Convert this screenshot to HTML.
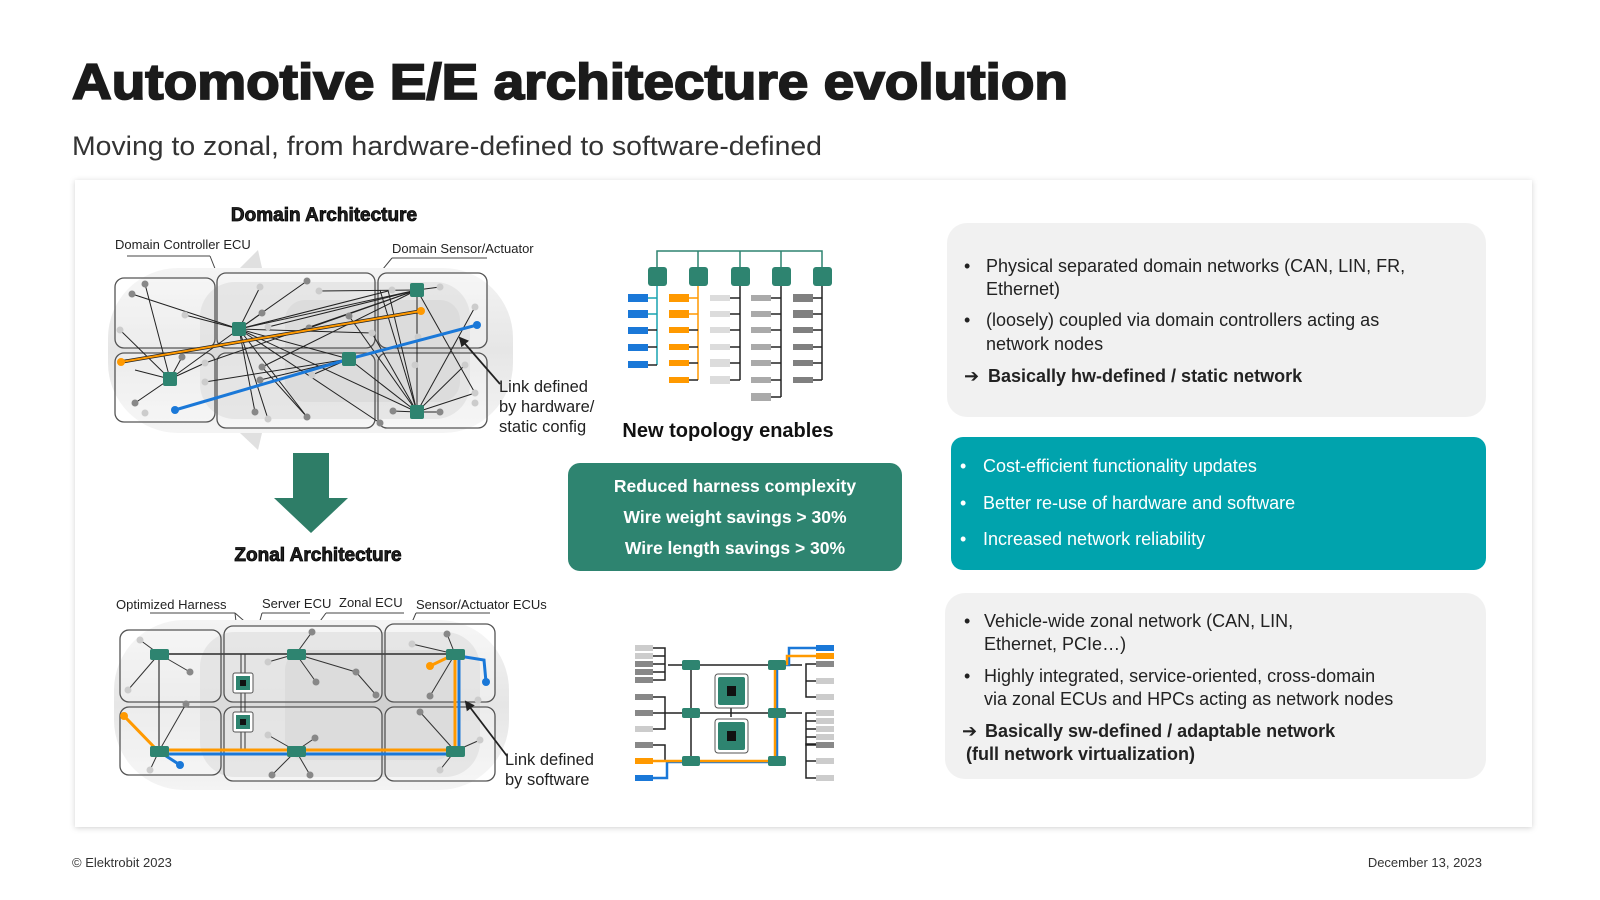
<!DOCTYPE html>
<html><head><meta charset="utf-8"><style>
html,body{margin:0;padding:0;background:#fff;}
body{width:1600px;height:900px;overflow:hidden;position:relative;font-family:"Liberation Sans",sans-serif;}
svg{position:absolute;left:0;top:0;}
</style></head><body>
<svg width="1600" height="900" viewBox="0 0 1600 900" xmlns="http://www.w3.org/2000/svg" font-family="Liberation Sans, sans-serif">
<defs>
<filter id="sh" x="-5%" y="-5%" width="110%" height="110%"><feDropShadow dx="0" dy="1" stdDeviation="3" flood-color="#000" flood-opacity="0.18"/></filter>
<marker id="ah" markerWidth="10" markerHeight="10" refX="8" refY="5" orient="auto" markerUnits="userSpaceOnUse"><path d="M0,0 L10,5 L0,10 z" fill="#222"/></marker>
<linearGradient id="car" x1="0" y1="0" x2="0" y2="1"><stop offset="0" stop-color="#f4f4f4"/><stop offset="0.5" stop-color="#e6e6e6"/><stop offset="1" stop-color="#f4f4f4"/></linearGradient>
</defs>

<text x="72" y="99" font-size="50" font-weight="bold" fill="#1b1b1b" stroke="#1b1b1b" stroke-width="1.8" textLength="996" lengthAdjust="spacingAndGlyphs">Automotive E/E architecture evolution</text>
<text x="72" y="155" font-size="27" fill="#333" textLength="750" lengthAdjust="spacingAndGlyphs">Moving to zonal, from hardware-defined to software-defined</text>

<rect x="75" y="180" width="1457" height="647" fill="#fff" filter="url(#sh)"/>

<text x="72" y="867" font-size="13" fill="#333">© Elektrobit 2023</text>
<text x="1482" y="867" font-size="13" fill="#333" text-anchor="end">December 13, 2023</text>

<!-- DOMAIN -->
<text x="324" y="221" font-size="19" font-weight="bold" fill="#222" stroke="#000" stroke-width="0.8" text-anchor="middle">Domain Architecture</text>
<text x="115" y="249" font-size="13" fill="#222">Domain Controller ECU</text>
<text x="392" y="253" font-size="13" fill="#222">Domain Sensor/Actuator</text>
<line x1="127" y1="256" x2="210" y2="256" stroke="#444" stroke-width="1"/>
<line x1="210" y1="256" x2="239" y2="329" stroke="#444" stroke-width="1"/>
<line x1="392" y1="258" x2="487" y2="258" stroke="#444" stroke-width="1"/>
<line x1="392" y1="258" x2="378" y2="275" stroke="#444" stroke-width="1"/>

<rect x="108" y="268" width="405" height="165" rx="70" fill="url(#car)"/>
<rect x="200" y="282" width="270" height="137" rx="35" fill="#d6d6d6" opacity="0.7"/>
<rect x="285" y="300" width="175" height="102" rx="20" fill="#c8c8c8" opacity="0.6"/>
<path d="M240 268 L258 250 L262 268 Z M240 433 L258 450 L262 433 Z" fill="#e0e0e0"/>
<g fill="#fff" fill-opacity="0.25" stroke="#555" stroke-width="1.3">
<rect x="115" y="278" width="100" height="70" rx="9"/>
<rect x="217" y="273" width="158" height="75" rx="9"/>
<rect x="378" y="273" width="109" height="75" rx="9"/>
<rect x="115" y="353" width="100" height="69" rx="9"/>
<rect x="217" y="353" width="158" height="75" rx="9"/>
<rect x="378" y="353" width="109" height="75" rx="9"/>
</g>
<g stroke="#222" stroke-width="1">
<line x1="239" y1="329" x2="132" y2="294"/><line x1="239" y1="329" x2="185" y2="315"/>
<line x1="239" y1="329" x2="260" y2="287"/><line x1="239" y1="329" x2="307" y2="281"/>
<line x1="239" y1="329" x2="262" y2="313"/><line x1="239" y1="329" x2="255" y2="412"/>
<line x1="239" y1="329" x2="307" y2="417"/><line x1="239" y1="329" x2="380" y2="423"/>
<line x1="239" y1="329" x2="268" y2="419"/><line x1="239" y1="329" x2="417" y2="290"/>
<line x1="239" y1="329" x2="417" y2="412"/><line x1="239" y1="329" x2="349" y2="359"/>
<line x1="239" y1="329" x2="170" y2="379"/><line x1="239" y1="329" x2="392" y2="290"/>
<line x1="239" y1="329" x2="372" y2="333"/>
<line x1="170" y1="379" x2="145" y2="284"/><line x1="170" y1="379" x2="120" y2="330"/>
<line x1="170" y1="379" x2="135" y2="403"/><line x1="170" y1="379" x2="182" y2="357"/>
<line x1="170" y1="379" x2="205" y2="363"/><line x1="170" y1="379" x2="135" y2="370"/>
<line x1="349" y1="359" x2="205" y2="382"/><line x1="349" y1="359" x2="260" y2="380"/>
<line x1="349" y1="359" x2="417" y2="412"/><line x1="349" y1="359" x2="312" y2="375"/>
<line x1="417" y1="290" x2="262" y2="367"/><line x1="417" y1="290" x2="319" y2="291"/>
<line x1="417" y1="290" x2="440" y2="287"/><line x1="417" y1="290" x2="205" y2="363"/>
<line x1="417" y1="290" x2="417" y2="412"/><line x1="417" y1="290" x2="268" y2="327"/>
<line x1="417" y1="290" x2="475" y2="393"/><line x1="417" y1="290" x2="309" y2="328"/>
<line x1="417" y1="412" x2="393" y2="411"/><line x1="417" y1="412" x2="440" y2="412"/>
<line x1="417" y1="412" x2="475" y2="393"/><line x1="417" y1="412" x2="475" y2="307"/>
<line x1="417" y1="412" x2="465" y2="365"/><line x1="417" y1="412" x2="380" y2="290"/>
<line x1="417" y1="412" x2="372" y2="333"/><line x1="417" y1="412" x2="349" y2="316"/>
<line x1="417" y1="412" x2="388" y2="290"/>
<line x1="307" y1="417" x2="262" y2="367"/>
</g>
<g fill="#888">
<circle cx="145" cy="284" r="3.5"/><circle cx="132" cy="294" r="3.5"/><circle cx="135" cy="403" r="3.5"/>
<circle cx="182" cy="357" r="3.5"/><circle cx="307" cy="281" r="3.5"/><circle cx="262" cy="313" r="3.5"/>
<circle cx="309" cy="328" r="3.5"/><circle cx="349" cy="316" r="3.5"/><circle cx="262" cy="367" r="3.5"/>
<circle cx="260" cy="380" r="3.5"/><circle cx="255" cy="412" r="3.5"/><circle cx="307" cy="417" r="3.5"/>
<circle cx="380" cy="423" r="3.5"/><circle cx="393" cy="411" r="3.5"/><circle cx="440" cy="412" r="3.5"/>
</g>
<g fill="#ccc">
<circle cx="185" cy="315" r="3.5"/><circle cx="120" cy="330" r="3.5"/><circle cx="145" cy="413" r="3.5"/>
<circle cx="205" cy="363" r="3.5"/><circle cx="205" cy="382" r="3.5"/><circle cx="260" cy="287" r="3.5"/>
<circle cx="319" cy="291" r="3.5"/><circle cx="268" cy="327" r="3.5"/><circle cx="392" cy="290" r="3.5"/>
<circle cx="440" cy="287" r="3.5"/><circle cx="475" cy="307" r="3.5"/><circle cx="418" cy="337" r="3.5"/>
<circle cx="372" cy="333" r="3.5"/><circle cx="268" cy="419" r="3.5"/><circle cx="312" cy="375" r="3.5"/>
<circle cx="415" cy="365" r="3.5"/><circle cx="465" cy="365" r="3.5"/><circle cx="475" cy="393" r="3.5"/>
<circle cx="475" cy="403" r="3.5"/>
</g>
<line x1="121" y1="362" x2="421" y2="311" stroke="#222" stroke-width="3.5"/>
<line x1="121" y1="362" x2="421" y2="311" stroke="#f90" stroke-width="2"/>
<polyline points="175,410 349,359 477,325" fill="none" stroke="#1a78d8" stroke-width="3"/>
<circle cx="121" cy="362" r="4" fill="#f90"/><circle cx="421" cy="311" r="4" fill="#f90"/>
<circle cx="175" cy="410" r="4" fill="#1a78d8"/><circle cx="477" cy="325" r="4" fill="#1a78d8"/>
<g fill="#2e8470">
<rect x="232" y="322" width="14" height="14" rx="2"/><rect x="163" y="372" width="14" height="14" rx="2"/>
<rect x="342" y="352" width="14" height="14" rx="2"/><rect x="410" y="283" width="14" height="14" rx="2"/>
<rect x="410" y="405" width="14" height="14" rx="2"/>
</g>
<line x1="500" y1="384" x2="460" y2="338" stroke="#222" stroke-width="1.8" marker-end="url(#ah)"/>
<text font-size="16.5" fill="#222"><tspan x="499" y="392">Link defined</tspan><tspan x="499" y="412">by hardware/</tspan><tspan x="499" y="432">static config</tspan></text>

<rect x="293" y="453" width="36" height="46" fill="#2e7d67"/>
<polygon points="274,498 348,498 311,533" fill="#2e7d67"/>

<!-- ZONAL -->
<text x="318" y="561" font-size="19" font-weight="bold" fill="#222" stroke="#000" stroke-width="0.8" text-anchor="middle">Zonal Architecture</text>
<text x="116" y="609" font-size="13" fill="#222">Optimized Harness</text>
<text x="262" y="608" font-size="13" fill="#222">Server ECU</text>
<text x="339" y="607" font-size="13" fill="#222">Zonal ECU</text>
<text x="416" y="609" font-size="13" fill="#222">Sensor/Actuator ECUs</text>
<g stroke="#444" stroke-width="1">
<line x1="150" y1="613" x2="235" y2="613"/><line x1="235" y1="613" x2="243" y2="683"/><line x1="235" y1="613" x2="283" y2="655"/>
<line x1="262" y1="613" x2="310" y2="613"/><line x1="262" y1="613" x2="243" y2="683"/>
<line x1="326" y1="613" x2="404" y2="613"/><line x1="326" y1="613" x2="296" y2="654"/>
<line x1="416" y1="613" x2="490" y2="613"/><line x1="416" y1="613" x2="400" y2="650"/>
</g>
<rect x="114" y="620" width="395" height="170" rx="70" fill="url(#car)"/>
<rect x="200" y="632" width="280" height="145" rx="35" fill="#d6d6d6" opacity="0.7"/>
<rect x="285" y="650" width="170" height="110" rx="20" fill="#c8c8c8" opacity="0.6"/>
<g fill="#fff" fill-opacity="0.25" stroke="#555" stroke-width="1.3">
<rect x="120" y="630" width="101" height="72" rx="9"/>
<rect x="224" y="626" width="158" height="76" rx="9"/>
<rect x="385" y="624" width="110" height="78" rx="9"/>
<rect x="120" y="707" width="101" height="68" rx="9"/>
<rect x="224" y="707" width="158" height="74" rx="9"/>
<rect x="385" y="707" width="110" height="74" rx="9"/>
</g>
<g stroke="#333" stroke-width="1">
<line x1="159" y1="654" x2="140" y2="640"/><line x1="159" y1="654" x2="128" y2="690"/><line x1="159" y1="654" x2="190" y2="672"/>
<line x1="296" y1="654" x2="312" y2="632"/><line x1="296" y1="654" x2="268" y2="662"/><line x1="296" y1="654" x2="316" y2="682"/>
<line x1="296" y1="654" x2="356" y2="672"/><line x1="356" y1="672" x2="376" y2="695"/>
<line x1="455" y1="654" x2="447" y2="634"/><line x1="455" y1="654" x2="412" y2="644"/><line x1="455" y1="654" x2="430" y2="696"/>
<line x1="159" y1="751" x2="186" y2="704"/><line x1="159" y1="751" x2="150" y2="770"/>
<line x1="296" y1="751" x2="315" y2="738"/><line x1="296" y1="751" x2="272" y2="775"/><line x1="296" y1="751" x2="310" y2="775"/>
<line x1="296" y1="751" x2="268" y2="735"/>
<line x1="455" y1="751" x2="420" y2="712"/><line x1="455" y1="751" x2="440" y2="770"/><line x1="455" y1="751" x2="480" y2="740"/>
</g>
<line x1="159" y1="654" x2="455" y2="654" stroke="#444" stroke-width="1.8"/>
<line x1="159" y1="654" x2="159" y2="751" stroke="#333" stroke-width="1.2"/>
<line x1="241" y1="654" x2="241" y2="751" stroke="#333" stroke-width="1"/>
<line x1="245" y1="654" x2="245" y2="751" stroke="#333" stroke-width="1"/>
<g fill="#888"><circle cx="190" cy="672" r="3.5"/><circle cx="316" cy="682" r="3.5"/><circle cx="356" cy="672" r="3.5"/><circle cx="376" cy="695" r="3.5"/><circle cx="447" cy="634" r="3.5"/><circle cx="430" cy="696" r="3.5"/><circle cx="186" cy="704" r="3.5"/><circle cx="272" cy="775" r="3.5"/><circle cx="310" cy="775" r="3.5"/><circle cx="315" cy="738" r="3.5"/><circle cx="420" cy="712" r="3.5"/><circle cx="312" cy="632" r="3.5"/></g>
<g fill="#ccc"><circle cx="140" cy="640" r="3.5"/><circle cx="128" cy="690" r="3.5"/><circle cx="268" cy="662" r="3.5"/><circle cx="412" cy="644" r="3.5"/><circle cx="150" cy="770" r="3.5"/><circle cx="268" cy="735" r="3.5"/><circle cx="440" cy="770" r="3.5"/><circle cx="480" cy="740" r="3.5"/><circle cx="478" cy="700" r="3.5"/></g>
<polyline points="180,765 163,754 459,754 459,656 484,660 486,682" fill="none" stroke="#1a78d8" stroke-width="3"/>
<polyline points="124,716 157,750 455,750 455,654 430,666" fill="none" stroke="#f90" stroke-width="3"/>
<circle cx="124" cy="716" r="4" fill="#f90"/><circle cx="430" cy="666" r="4" fill="#f90"/>
<circle cx="180" cy="765" r="4" fill="#1a78d8"/><circle cx="486" cy="682" r="4" fill="#1a78d8"/>
<g fill="#2e8470">
<rect x="150" y="649" width="19" height="11" rx="2"/><rect x="287" y="649" width="19" height="11" rx="2"/><rect x="446" y="649" width="19" height="11" rx="2"/>
<rect x="150" y="746" width="19" height="11" rx="2"/><rect x="287" y="746" width="19" height="11" rx="2"/><rect x="446" y="746" width="19" height="11" rx="2"/>
</g>
<g>
<rect x="233" y="673" width="20" height="20" rx="2" fill="#fff" stroke="#555"/><rect x="236" y="676" width="14" height="14" fill="#2e8470"/><rect x="240" y="680" width="6" height="6" fill="#111"/>
<rect x="233" y="712" width="20" height="20" rx="2" fill="#fff" stroke="#555"/><rect x="236" y="715" width="14" height="14" fill="#2e8470"/><rect x="240" y="719" width="6" height="6" fill="#111"/>
</g>
<line x1="507" y1="756" x2="466" y2="702" stroke="#222" stroke-width="1.8" marker-end="url(#ah)"/>
<text font-size="16.5" fill="#222"><tspan x="505" y="765">Link defined</tspan><tspan x="505" y="785">by software</tspan></text>

<!-- TOP TOPOLOGY -->
<polyline points="657,276 657,251 822,251 822,276" fill="none" stroke="#2e8470" stroke-width="1.5"/>
<g stroke="#2e8470" stroke-width="1.5"><line x1="698" y1="251" x2="698" y2="276"/><line x1="740" y1="251" x2="740" y2="276"/><line x1="781" y1="251" x2="781" y2="276"/></g>
<line x1="657" y1="276" x2="657" y2="365" stroke="#19a3b0" stroke-width="1.5"/>
<line x1="698" y1="276" x2="698" y2="380" stroke="#f90" stroke-width="1.5"/>
<g stroke="#222" stroke-width="1.5"><line x1="740" y1="276" x2="740" y2="380"/><line x1="781" y1="276" x2="781" y2="397"/><line x1="822" y1="276" x2="822" y2="380"/></g>
<g fill="#2e8470"><rect x="648" y="267" width="19" height="19" rx="3"/><rect x="689" y="267" width="19" height="19" rx="3"/><rect x="731" y="267" width="19" height="19" rx="3"/><rect x="772" y="267" width="19" height="19" rx="3"/><rect x="813" y="267" width="19" height="19" rx="3"/></g>
<g stroke-width="1.5">
<g stroke="#19a3b0"><line x1="648" y1="298" x2="657" y2="298"/><line x1="648" y1="314" x2="657" y2="314"/></g>
<g stroke="#222"><line x1="648" y1="330" x2="657" y2="330"/><line x1="648" y1="347" x2="657" y2="347"/><line x1="648" y1="365" x2="657" y2="365"/></g>
<g stroke="#f90"><line x1="689" y1="298" x2="698" y2="298"/><line x1="689" y1="314" x2="698" y2="314"/></g>
<g stroke="#222"><line x1="689" y1="330" x2="698" y2="330"/><line x1="689" y1="347" x2="698" y2="347"/><line x1="689" y1="363" x2="698" y2="363"/><line x1="689" y1="380" x2="698" y2="380"/>
<line x1="730" y1="298" x2="740" y2="298"/><line x1="730" y1="314" x2="740" y2="314"/><line x1="730" y1="330" x2="740" y2="330"/><line x1="730" y1="347" x2="740" y2="347"/><line x1="730" y1="363" x2="740" y2="363"/><line x1="730" y1="380" x2="740" y2="380"/>
<line x1="771" y1="298" x2="781" y2="298"/><line x1="771" y1="314" x2="781" y2="314"/><line x1="771" y1="330" x2="781" y2="330"/><line x1="771" y1="347" x2="781" y2="347"/><line x1="771" y1="363" x2="781" y2="363"/><line x1="771" y1="380" x2="781" y2="380"/><line x1="771" y1="397" x2="781" y2="397"/>
<line x1="813" y1="298" x2="822" y2="298"/><line x1="813" y1="314" x2="822" y2="314"/><line x1="813" y1="330" x2="822" y2="330"/><line x1="813" y1="347" x2="822" y2="347"/><line x1="813" y1="363" x2="822" y2="363"/><line x1="813" y1="380" x2="822" y2="380"/></g>
</g>
<g fill="#1a78d8"><rect x="628" y="294" width="20" height="8"/><rect x="628" y="310" width="20" height="8"/><rect x="628" y="327" width="20" height="7"/><rect x="628" y="344" width="20" height="7"/><rect x="628" y="361" width="20" height="7"/></g>
<g fill="#f90"><rect x="669" y="294" width="20" height="8"/><rect x="669" y="310" width="20" height="8"/><rect x="669" y="327" width="20" height="6"/><rect x="669" y="344" width="20" height="6"/><rect x="669" y="360" width="20" height="6"/><rect x="669" y="377" width="20" height="6"/></g>
<g fill="#dcdcdc"><rect x="710" y="295" width="20" height="6"/><rect x="710" y="311" width="20" height="6"/><rect x="710" y="327" width="20" height="6"/><rect x="710" y="344" width="20" height="6"/><rect x="710" y="359" width="20" height="8"/><rect x="710" y="376" width="20" height="8"/></g>
<g fill="#aaa"><rect x="751" y="295" width="20" height="6"/><rect x="751" y="311" width="20" height="6"/><rect x="751" y="327" width="20" height="6"/><rect x="751" y="344" width="20" height="6"/><rect x="751" y="360" width="20" height="6"/><rect x="751" y="377" width="20" height="6"/><rect x="751" y="393" width="20" height="8"/></g>
<g fill="#808080"><rect x="793" y="294" width="20" height="8"/><rect x="793" y="310" width="20" height="8"/><rect x="793" y="327" width="20" height="6"/><rect x="793" y="344" width="20" height="6"/><rect x="793" y="360" width="20" height="6"/><rect x="793" y="377" width="20" height="6"/></g>

<text x="728" y="437" font-size="20" font-weight="bold" fill="#111" text-anchor="middle">New topology enables</text>

<rect x="568" y="463" width="334" height="108" rx="12" fill="#2e8470"/>
<g font-size="17.5" font-weight="bold" fill="#fff" text-anchor="middle">
<text x="735" y="492">Reduced harness complexity</text>
<text x="735" y="523">Wire weight savings &gt; 30%</text>
<text x="735" y="554">Wire length savings &gt; 30%</text>
</g>

<!-- BOTTOM TOPOLOGY -->
<g stroke="#222" stroke-width="1.5" fill="none">
<line x1="668" y1="665" x2="802" y2="665"/><line x1="668" y1="713" x2="802" y2="713"/>
<line x1="691" y1="665" x2="691" y2="761"/><line x1="777" y1="665" x2="777" y2="761"/>
<line x1="731" y1="700" x2="731" y2="717"/>
<polyline points="653,648 665,648 665,680 653,680"/><line x1="653" y1="656" x2="665" y2="656"/><line x1="653" y1="664" x2="665" y2="664"/><line x1="653" y1="672" x2="665" y2="672"/>
<polyline points="653,697 665,697 665,729 653,729"/><line x1="653" y1="713" x2="668" y2="713"/>
<polyline points="653,745 665,745 665,761 672,761"/>
<polyline points="816,664 806,664 806,697 816,697"/><line x1="806" y1="681" x2="816" y2="681"/>
<polyline points="816,713 806,713 806,745 816,745"/><line x1="806" y1="721" x2="816" y2="721"/><line x1="806" y1="729" x2="816" y2="729"/><line x1="806" y1="737" x2="816" y2="737"/>
<polyline points="816,744 806,744 806,778 816,778"/><line x1="806" y1="761" x2="816" y2="761"/>
</g>
<polyline points="653,778 667,778 667,762 777,762 777,665 789,665 789,648 816,648" fill="none" stroke="#1a78d8" stroke-width="2.5"/>
<polyline points="653,761 775,761 775,664 787,664 787,656 816,656" fill="none" stroke="#f90" stroke-width="2.5"/>
<g fill="#2e8470">
<rect x="682" y="660" width="18" height="10" rx="2"/><rect x="768" y="660" width="18" height="10" rx="2"/>
<rect x="682" y="708" width="18" height="10" rx="2"/><rect x="768" y="708" width="18" height="10" rx="2"/>
<rect x="682" y="756" width="18" height="10" rx="2"/><rect x="768" y="756" width="18" height="10" rx="2"/>
</g>
<g>
<rect x="715" y="674" width="33" height="34" rx="3" fill="#fff" stroke="#555"/><rect x="718" y="677" width="27" height="28" rx="2" fill="#2e8470"/><rect x="727" y="686" width="9" height="10" fill="#111"/>
<rect x="715" y="719" width="33" height="34" rx="3" fill="#fff" stroke="#555"/><rect x="718" y="722" width="27" height="28" rx="2" fill="#2e8470"/><rect x="727" y="731" width="9" height="10" fill="#111"/>
</g>
<g>
<rect x="635" y="645" width="18" height="6" fill="#ccc"/><rect x="635" y="653" width="18" height="6" fill="#ccc"/><rect x="635" y="661" width="18" height="6" fill="#888"/><rect x="635" y="669" width="18" height="6" fill="#888"/><rect x="635" y="677" width="18" height="6" fill="#888"/>
<rect x="635" y="694" width="18" height="6" fill="#888"/><rect x="635" y="710" width="18" height="6" fill="#888"/><rect x="635" y="726" width="18" height="6" fill="#ccc"/>
<rect x="635" y="742" width="18" height="6" fill="#888"/><rect x="635" y="758" width="18" height="6" fill="#f90"/><rect x="635" y="775" width="18" height="6" fill="#1a78d8"/>
<rect x="816" y="645" width="18" height="6" fill="#1a78d8"/><rect x="816" y="653" width="18" height="6" fill="#f90"/><rect x="816" y="661" width="18" height="6" fill="#888"/><rect x="816" y="678" width="18" height="6" fill="#ccc"/><rect x="816" y="694" width="18" height="6" fill="#ccc"/>
<rect x="816" y="710" width="18" height="6" fill="#ccc"/><rect x="816" y="718" width="18" height="6" fill="#ccc"/><rect x="816" y="726" width="18" height="6" fill="#ccc"/><rect x="816" y="734" width="18" height="6" fill="#ccc"/><rect x="816" y="742" width="18" height="6" fill="#888"/>
<rect x="816" y="758" width="18" height="6" fill="#ccc"/><rect x="816" y="775" width="18" height="6" fill="#ccc"/>
</g>

<!-- RIGHT PANELS -->
<rect x="947" y="223" width="539" height="194" rx="20" fill="#f1f1f1"/>
<g font-size="18" fill="#222">
<text x="964" y="272">•</text><text x="986" y="272">Physical separated domain networks (CAN, LIN, FR,</text>
<text x="986" y="295">Ethernet)</text>
<text x="964" y="326">•</text><text x="986" y="326">(loosely) coupled via domain controllers acting as</text>
<text x="986" y="350">network nodes</text>
<text x="964" y="382">➔</text><text x="988" y="382" font-weight="bold">Basically hw-defined / static network</text>
</g>

<rect x="951" y="437" width="535" height="133" rx="12" fill="#00a3ad"/>
<g font-size="18" fill="#fff">
<text x="960" y="472">•</text><text x="983" y="472">Cost-efficient functionality updates</text>
<text x="960" y="509">•</text><text x="983" y="509">Better re-use of hardware and software</text>
<text x="960" y="545">•</text><text x="983" y="545">Increased network reliability</text>
</g>

<rect x="945" y="593" width="541" height="186" rx="20" fill="#f1f1f1"/>
<g font-size="18" fill="#222">
<text x="964" y="627">•</text><text x="984" y="627">Vehicle-wide zonal network (CAN, LIN,</text>
<text x="984" y="650">Ethernet, PCIe…)</text>
<text x="964" y="682">•</text><text x="984" y="682">Highly integrated, service-oriented, cross-domain</text>
<text x="984" y="705">via zonal ECUs and HPCs acting as network nodes</text>
<text x="962" y="737">➔</text><text x="985" y="737" font-weight="bold">Basically sw-defined / adaptable network</text>
<text x="966" y="760" font-weight="bold">(full network virtualization)</text>
</g>
</svg>
</body></html>
